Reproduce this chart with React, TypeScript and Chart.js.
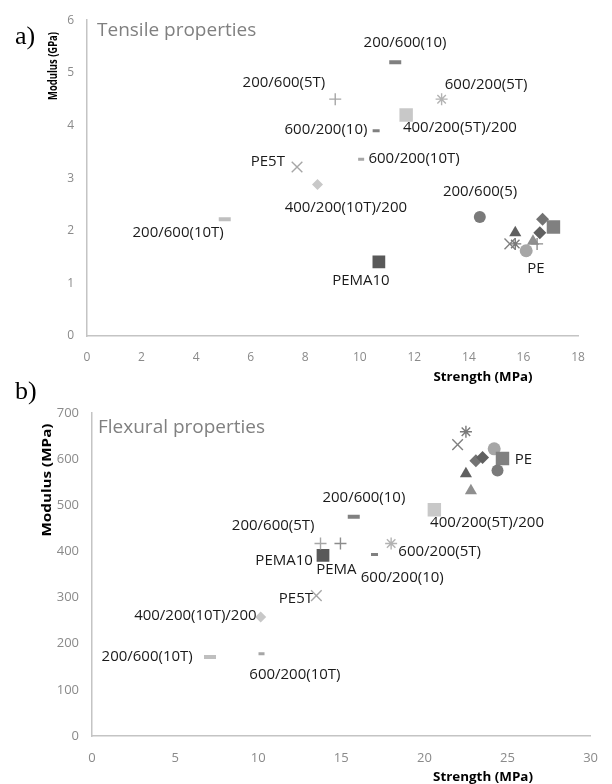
import React, { useEffect, useRef } from "react";
import { Chart, registerables } from "chart.js";

Chart.register(...registerables);

// ---------------- DATA ----------------
const seriesNames = [
  "200/600(10)", "200/600(5T)", "600/200(5T)", "400/200(5T)/200", "600/200(10)",
  "600/200(10T)", "PE5T", "400/200(10T)/200", "200/600(10T)", "PEMA10",
  "200/600(5)", "PE", "PEMA", "series14", "series15",
  "series16", "series17", "series18", "series19", "series20",
];

// a) Tensile properties: strength (MPa) / modulus (GPa)
const tensileStrength = [11.3, 9.1, 13.0, 11.7, 10.6, 10.05, 7.7, 8.45, 5.05, 10.7, 14.4, 17.1, 16.5, 15.7, 15.5, 15.7, 16.1, 16.35, 16.6, 16.7];
const tensileModulus = [5.2, 4.5, 4.5, 4.2, 3.9, 3.36, 3.21, 2.88, 2.22, 1.41, 2.26, 2.07, 1.75, 1.96, 1.75, 1.75, 1.62, 1.8, 1.96, 2.22];

// b) Flexural properties: strength (MPa) / modulus (MPa)
const flexStrength = [15.75, 13.75, 18.0, 20.6, 17.0, 10.2, 13.5, 10.15, 7.1, 13.9, 24.4, 24.7, 14.95, 22.5, 22.0, 22.5, 24.2, 22.8, 23.5, 23.1];
const flexModulus = [475, 417, 417, 490, 393, 178, 304, 258, 171, 391, 575, 601, 417, 568, 631, 659, 622, 531, 603, 596];

// axis ticks
const tensileXTicks = [0, 2, 4, 6, 8, 10, 12, 14, 16, 18];
const tensileYTicks = [0, 1, 2, 3, 4, 5, 6];
const flexXTicks = [0, 5, 10, 15, 20, 25, 30];
const flexYTicks = [0, 100, 200, 300, 400, 500, 600, 700];

// data labels (text and anchor in data units)
const tensileLabelText = ["200/600(10)", "200/600(5T)", "600/200(5T)", "400/200(5T)/200", "600/200(10)", "600/200(10T)", "PE5T", "400/200(10T)/200", "200/600(10T)", "PEMA10", "200/600(5)", "PE"];
const tensileLabelX = [11.66, 7.22, 14.63, 13.67, 8.76, 11.99, 6.63, 9.49, 3.34, 10.04, 14.41, 16.46];
const tensileLabelY = [5.57, 4.81, 4.78, 3.95, 3.91, 3.37, 3.31, 2.43, 1.96, 1.05, 2.75, 1.28];

const flexLabelText = ["PE", "200/600(10)", "200/600(5T)", "400/200(5T)/200", "600/200(5T)", "PEMA10", "PEMA", "600/200(10)", "PE5T", "400/200(10T)/200", "200/600(10T)", "600/200(10T)"];
const flexLabelX = [25.96, 16.36, 10.9, 23.77, 20.92, 11.56, 14.7, 18.67, 12.27, 6.22, 3.32, 12.21];
const flexLabelY = [598, 516, 456, 462, 400, 380, 361, 343, 298, 261, 171, 132];

// ---------------- STYLES ----------------
const markerShape = ["line", "cross", "star", "rect", "line", "line", "crossRot", "rectRot", "line", "rect", "circle", "rect", "cross", "triangle", "crossRot", "star", "circle", "triangle", "rectRot", "rectRot"];
const markerRadius = [6, 6, 6, 9.5, 3.5, 3, 7.5, 5.5, 6, 9, 6, 9.5, 6, 7, 7.5, 6, 6.5, 7, 6.5, 6.5];
const markerColor = ["#808080", "#a6a6a6", "#b3b3b3", "#c8c8c8", "#808080", "#a6a6a6", "#a6a6a6", "#c8c8c8", "#bfbfbf", "#595959", "#7a7a7a", "#808080", "#8c8c8c", "#5f5f5f", "#808080", "#7a7a7a", "#a6a6a6", "#8f8f8f", "#606060", "#737373"];
const lineWidthFor = (shape: string, r: number) =>
  shape === "line" ? (r >= 5 ? 4 : 3) : shape === "cross" || shape === "crossRot" || shape === "star" ? 1.4 : 0;

const FONT = '"Open Sans", "Noto Sans", sans-serif';

type PanelCfg = {
  xs: number[]; ys: number[];
  xTicks: number[]; yTicks: number[];
  labelText: string[]; labelX: number[]; labelY: number[];
  title: string; titleDx: number; titleDy: number;
  padTop: number; padRight: number; yWidth: number; xHeight: number;
  tickSize: number;
  xTitle: string; xTitleX: number; xTitleY: number; xTitleLen: number;
  yTitle: string; yTitleX: number; yTitleY: number; yTitleLen: number;
};

function drawStretched(ctx: CanvasRenderingContext2D, text: string, cx: number, cy: number, rot: number, len: number) {
  ctx.save();
  ctx.font = `bold 13px ${FONT}`;
  const w = ctx.measureText(text).width;
  ctx.translate(cx, cy);
  ctx.rotate(rot);
  ctx.scale(len / w, 1);
  ctx.fillStyle = "#000000";
  ctx.textAlign = "center";
  ctx.textBaseline = "middle";
  ctx.fillText(text, 0, 0);
  ctx.restore();
}

function makeChart(canvas: HTMLCanvasElement, cfg: PanelCfg) {
  const datasets = seriesNames.map((name, i) => {
    const shape = markerShape[i];
    const r = markerRadius[i];
    const filled = !["line", "cross", "crossRot", "star"].includes(shape);
    return {
      label: name,
      data: [{ x: cfg.xs[i], y: cfg.ys[i] }],
      pointStyle: shape as any,
      pointRadius: r,
      pointHoverRadius: r,
      pointBorderWidth: filled ? 0 : lineWidthFor(shape, r),
      pointBorderColor: markerColor[i],
      pointBackgroundColor: markerColor[i],
      showLine: false,
    };
  });

  const textPlugin = {
    id: "panelText",
    afterDraw(chart: any) {
      const ctx: CanvasRenderingContext2D = chart.ctx;
      const sx = chart.scales.x;
      const sy = chart.scales.y;
      ctx.save();
      ctx.fillStyle = "#1a1a1a";
      ctx.font = `15px ${FONT}`;
      ctx.textAlign = "center";
      ctx.textBaseline = "middle";
      cfg.labelText.forEach((t, i) => {
        ctx.fillText(t, sx.getPixelForValue(cfg.labelX[i]), sy.getPixelForValue(cfg.labelY[i]));
      });
      ctx.fillStyle = "#808080";
      ctx.font = `19px ${FONT}`;
      ctx.textAlign = "left";
      ctx.fillText(cfg.title, chart.chartArea.left + cfg.titleDx, chart.chartArea.top + cfg.titleDy);
      ctx.restore();
      drawStretched(ctx, cfg.xTitle, cfg.xTitleX, cfg.xTitleY, 0, cfg.xTitleLen);
      drawStretched(ctx, cfg.yTitle, cfg.yTitleX, cfg.yTitleY, -Math.PI / 2, cfg.yTitleLen);
    },
  };

  const tickFont = { family: FONT, size: cfg.tickSize };
  return new Chart(canvas, {
    type: "scatter",
    data: { datasets: datasets as any },
    plugins: [textPlugin],
    options: {
      animation: false,
      responsive: false,
      devicePixelRatio: 1,
      layout: { padding: { left: 0, right: cfg.padRight, top: cfg.padTop, bottom: 0 } },
      plugins: { legend: { display: false }, tooltip: { enabled: false }, title: { display: false } },
      scales: {
        x: {
          type: "linear",
          min: cfg.xTicks[0],
          max: cfg.xTicks[cfg.xTicks.length - 1],
          afterBuildTicks: (s: any) => { s.ticks = cfg.xTicks.map((v) => ({ value: v })); },
          afterFit: (s: any) => { s.height = cfg.xHeight; },
          grid: { display: false, drawTicks: false },
          border: { display: true, color: "#c4c4c4", width: 1.5 },
          ticks: { color: "#8a8a8a", font: tickFont, padding: 14, maxRotation: 0, autoSkip: false },
        },
        y: {
          type: "linear",
          min: cfg.yTicks[0],
          max: cfg.yTicks[cfg.yTicks.length - 1],
          afterBuildTicks: (s: any) => { s.ticks = cfg.yTicks.map((v) => ({ value: v })); },
          afterFit: (s: any) => { s.width = cfg.yWidth; },
          grid: { display: false, drawTicks: false },
          border: { display: true, color: "#c4c4c4", width: 1.5 },
          ticks: { color: "#8a8a8a", font: tickFont, padding: 13, autoSkip: false },
        },
      },
    } as any,
  });
}

export default function App() {
  const topRef = useRef<HTMLCanvasElement>(null);
  const botRef = useRef<HTMLCanvasElement>(null);

  useEffect(() => {
    const c1 = makeChart(topRef.current!, {
      xs: tensileStrength, ys: tensileModulus,
      xTicks: tensileXTicks, yTicks: tensileYTicks,
      labelText: tensileLabelText, labelX: tensileLabelX, labelY: tensileLabelY,
      title: "Tensile properties", titleDx: 10, titleDy: 10,
      padTop: 17, padRight: 34, yWidth: 87, xHeight: 56, tickSize: 12,
      xTitle: "Strength (MPa)", xTitleX: 483, xTitleY: 377, xTitleLen: 99,
      yTitle: "Modulus (GPa)", yTitleX: 53, yTitleY: 66, yTitleLen: 68,
    });
    const c2 = makeChart(botRef.current!, {
      xs: flexStrength, ys: flexModulus,
      xTicks: flexXTicks, yTicks: flexYTicks,
      labelText: flexLabelText, labelX: flexLabelX, labelY: flexLabelY,
      title: "Flexural properties", titleDx: 6, titleDy: 15,
      padTop: 20, padRight: 14, yWidth: 92, xHeight: 48, tickSize: 13,
      xTitle: "Strength (MPa)", xTitleX: 483, xTitleY: 385, xTitleLen: 100,
      yTitle: "Modulus (MPa)", yTitleX: 47, yTitleY: 88, yTitleLen: 113,
    });
    return () => { c1.destroy(); c2.destroy(); };
  }, []);

  const letter: React.CSSProperties = {
    position: "absolute", left: 15, fontFamily: '"Liberation Serif", "DejaVu Serif", serif',
    fontSize: 26, lineHeight: "26px", color: "#000",
  };

  return (
    <div style={{ position: "absolute", left: 0, top: 0, width: 612, height: 784, background: "#fff", overflow: "hidden" }}>
      <canvas ref={topRef} width={612} height={392} style={{ position: "absolute", left: 0, top: 0, width: 612, height: 392 }} />
      <canvas ref={botRef} width={612} height={392} style={{ position: "absolute", left: 0, top: 392, width: 612, height: 392 }} />
      <div style={{ ...letter, top: 23 }}>a)</div>
      <div style={{ ...letter, top: 378 }}>b)</div>
    </div>
  );
}
